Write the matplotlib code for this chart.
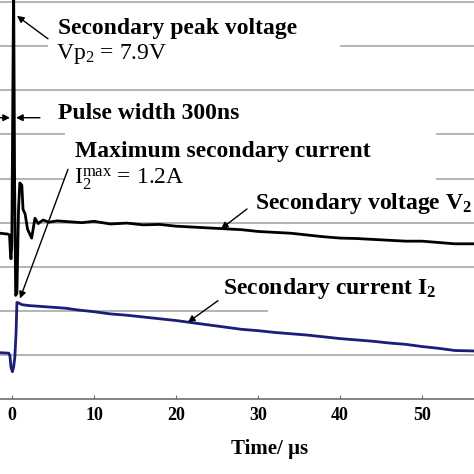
import numpy as np
import matplotlib.pyplot as plt
from matplotlib.patches import Rectangle

# secondary voltage trace V2 (time in us, arbitrary grid units)
t_v2 = [-1.46, -0.5, -0.3, -0.2, -0.12, -0.02, 0.2, 0.32, 0.45, 0.6, 0.8, 0.95,
        1.2, 1.35, 1.6, 1.9, 2.4, 2.8, 3.2, 3.8, 4.5, 5.5, 7, 8.5, 10, 12, 14,
        16, 18, 20, 22, 24, 26, 28, 30, 32, 34, 36, 38, 40, 42, 44, 46, 48, 50,
        52, 54, 56.3]
v2 = [3.76, 3.74, 3.72, 3.35, 3.18, 3.5, 9.5, 5.0, 2.35, 2.4, 4.3, 4.9,
      4.85, 4.3, 4.2, 3.85, 3.65, 4.1, 3.98, 4.06, 4.01, 4.04, 4.02, 4.0, 4.03,
      3.97, 3.99, 3.95, 3.96, 3.92, 3.9, 3.88, 3.86, 3.84, 3.8, 3.78, 3.76,
      3.72, 3.68, 3.65, 3.64, 3.62, 3.6, 3.58, 3.58, 3.55, 3.52, 3.52]

# secondary current trace I2
t_i2 = [-1.46, -0.4, -0.25, -0.12, 0.05, 0.2, 0.35, 0.5, 0.6, 0.8, 1.2, 2, 3.5,
        5, 6.5, 8, 10, 12, 14, 16, 18, 20, 22, 24, 26, 28, 30, 32, 34, 36, 38,
        40, 42, 44, 46, 48, 50, 52, 54, 56.3]
i2 = [1.05, 1.04, 0.98, 0.72, 0.62, 0.72, 0.95, 1.5, 2.19, 2.18, 2.14, 2.12,
      2.10, 2.08, 2.06, 2.02, 1.98, 1.93, 1.90, 1.86, 1.82, 1.78, 1.73, 1.68,
      1.63, 1.58, 1.55, 1.51, 1.48, 1.45, 1.41, 1.37, 1.34, 1.31, 1.27, 1.24,
      1.19, 1.15, 1.10, 1.09]

xticks = [0, 10, 20, 30, 40, 50]
ygrid = [1, 2, 3, 4, 5, 6, 7, 8, 9]

plt.rcParams['font.family'] = ['Liberation Serif', 'DejaVu Serif']
plt.rcParams['mathtext.fontset'] = 'custom'
plt.rcParams['mathtext.rm'] = 'Liberation Serif'
plt.rcParams['mathtext.it'] = 'Liberation Serif:italic'
plt.rcParams['mathtext.bf'] = 'Liberation Serif:bold'

fig = plt.figure(figsize=(4.74, 4.74), dpi=100)
ax = fig.add_axes([0, 75 / 474, 1, 399 / 474])

ax.set_xlim(-1.46, 56.34)
ax.set_ylim(0, 9.05)

# grid
for g in ygrid:
    ax.axhline(g, color='#a0a0a0', lw=1.1, zorder=1)

# white areas where text boxes hide the grid
ax_w, ax_h = 474.0, 399.0
for x0, x1, y0, y1 in [(48, 340, 10, 64), (65, 436, 122, 192), (268, 474, 276, 318)]:
    ax.add_patch(Rectangle((x0 / ax_w, 1 - y1 / ax_h), (x1 - x0) / ax_w, (y1 - y0) / ax_h,
                           transform=ax.transAxes, fc='white', ec='none', zorder=2))

ax.plot(t_v2, v2, color='black', lw=2.0, zorder=4)
ax.plot(t_i2, i2, color='#1c1c7a', lw=2.0, zorder=4)

for s in ['left', 'right', 'top']:
    ax.spines[s].set_visible(False)
ax.spines['bottom'].set_color('#707070')
ax.spines['bottom'].set_linewidth(1.2)
ax.set_xticks(xticks)
ax.set_yticks([])
ax.tick_params(axis='x', direction='in', length=3, color='#707070', pad=6)
for lab in ax.get_xticklabels():
    lab.set_fontsize(13)
    lab.set_fontweight('bold')

ax.set_xlabel('Time/ µs', fontsize=15, fontweight='bold')
ax.xaxis.set_label_coords(0.569, -0.1)

arrow = dict(arrowstyle='-|>', color='black', lw=1.0, mutation_scale=10, shrinkA=0, shrinkB=0)
tkw = dict(fontsize=17, va='baseline', ha='left', zorder=5)

ax.text(5.61, 8.28, 'Secondary peak voltage', fontweight='bold', **tkw)
ax.text(5.35, 7.71, r'Vp$_2$ = 7.9V', **tkw)
ax.annotate('', xy=(0.61, 8.69), xytext=(4.39, 8.17), arrowprops=arrow, zorder=5)

ax.text(5.61, 6.36, 'Pulse width 300ns', fontweight='bold', **tkw)
ax.annotate('', xy=(-0.24, 6.38), xytext=(-1.46, 6.38), arrowprops=arrow, zorder=5)
ax.annotate('', xy=(0.49, 6.38), xytext=(3.41, 6.38), arrowprops=arrow, zorder=5)

ax.text(7.68, 5.50, 'Maximum secondary current', fontweight='bold', **tkw)
ax.text(7.56, 4.87, r'I$_2^{\mathrm{max}}$ = 1.2A', **tkw)
ax.annotate('', xy=(0.98, 2.28), xytext=(6.83, 5.21), arrowprops=arrow, zorder=5)

ax.text(29.63, 4.31, r'Secondary voltage V$_\mathbf{2}$', fontweight='bold', **tkw)
ax.annotate('', xy=(25.49, 3.86), xytext=(28.66, 4.31), arrowprops=arrow, zorder=5)

ax.text(25.73, 2.39, r'Secondary current I$_\mathbf{2}$', fontweight='bold', **tkw)
ax.annotate('', xy=(21.46, 1.74), xytext=(25.12, 2.23), arrowprops=arrow, zorder=5)

fig.savefig('out.png', dpi=100)
